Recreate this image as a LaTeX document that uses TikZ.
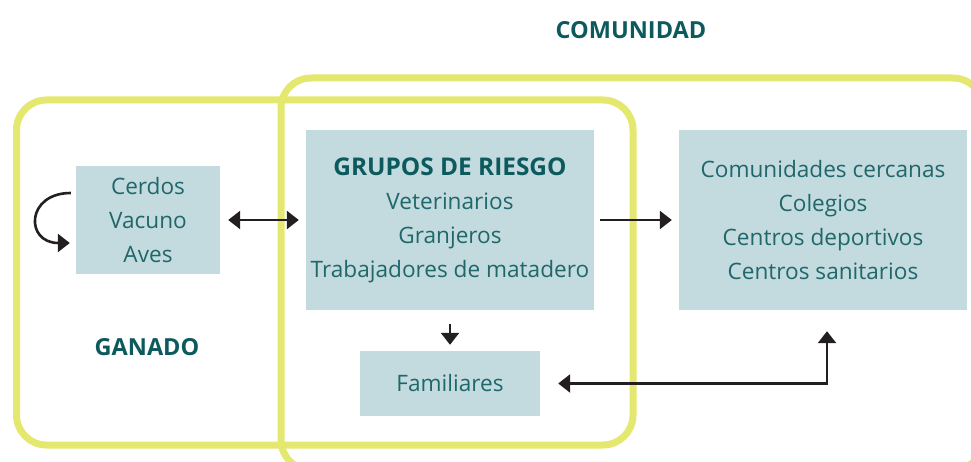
\documentclass[tikz,border=0pt]{standalone}
\usepackage{fontspec}
\setmainfont{Open Sans}
\usetikzlibrary{arrows.meta}
\definecolor{zoneyellow}{HTML}{E5E86F}
\definecolor{boxblue}{HTML}{C3DBDF}
\definecolor{textteal}{HTML}{1F676B}
\definecolor{headteal}{HTML}{0D5A5E}
\definecolor{arrowblack}{HTML}{231F20}
\tikzset{
	zone/.style={draw=zoneyellow, line width=7pt, rounded corners=30pt},
	box/.style={fill=boxblue, text=textteal, align=center, inner sep=0pt, font=\fontsize{22.6}{34}\selectfont},
	head/.style={text=headteal, font=\fontsize{23.5}{28}\selectfont\bfseries},
	arr/.style={draw=arrowblack, line width=2.6pt, -{Triangle[width=18pt,length=12pt]}},
	dblarr/.style={arr, {Triangle[width=18pt,length=12pt]}-{Triangle[width=18pt,length=12pt]}},
}

\begin{document}
\begin{tikzpicture}[x=1pt,y=-1pt]
		%%%%% START %%%%%
		\useasboundingbox (0,0) rectangle (971,462);
		
		\draw[zone] (281,78) rectangle (983,470);
		\draw[zone] (16.5,100) rectangle (633,445);
		
		\node[head] (comunidad) at (631,30.5) {COMUNIDAD};
		\node[head] (ganado) at (147,347) {GANADO};
		
		\node[box, minimum width=144pt, minimum height=107pt] (animales) at (148,220) {Cerdos\\Vacuno\\Aves};
		\node[box, minimum width=288pt, minimum height=180pt] (grupos) at (450,220) {{\color{headteal}\bfseries\fontsize{24.4}{34}\selectfont GRUPOS DE RIESGO}\\Veterinarios\\Granjeros\\Trabajadores de matadero};
		\node[box, minimum width=288pt, minimum height=180pt] (cercanos) at (823,220) {Comunidades cercanas\\Colegios\\Centros deportivos\\Centros sanitarios};
		\node[box, minimum width=180pt, minimum height=65pt] (familiares) at (450,383.5) {Familiares};
		
		\draw[arr] ([xshift=-5pt,yshift=27pt]animales.west) to[out=180,in=180,looseness=2.3] ([xshift=-6pt,yshift=-23pt]animales.west);
		\draw[dblarr] ([xshift=8pt]animales.east) -- ([xshift=-7pt]grupos.west);
		\draw[arr] ([xshift=6pt]grupos.east) -- ([xshift=-7pt]cercanos.west);
		\draw[arr] ([yshift=-14pt]grupos.south) -- ([yshift=6pt]familiares.north);
		\draw[dblarr] ([xshift=4pt,yshift=-21pt]cercanos.south) |- ([xshift=18pt]familiares.east);
		
		%%%%% END %%%%%
\end{tikzpicture}
\end{document}
